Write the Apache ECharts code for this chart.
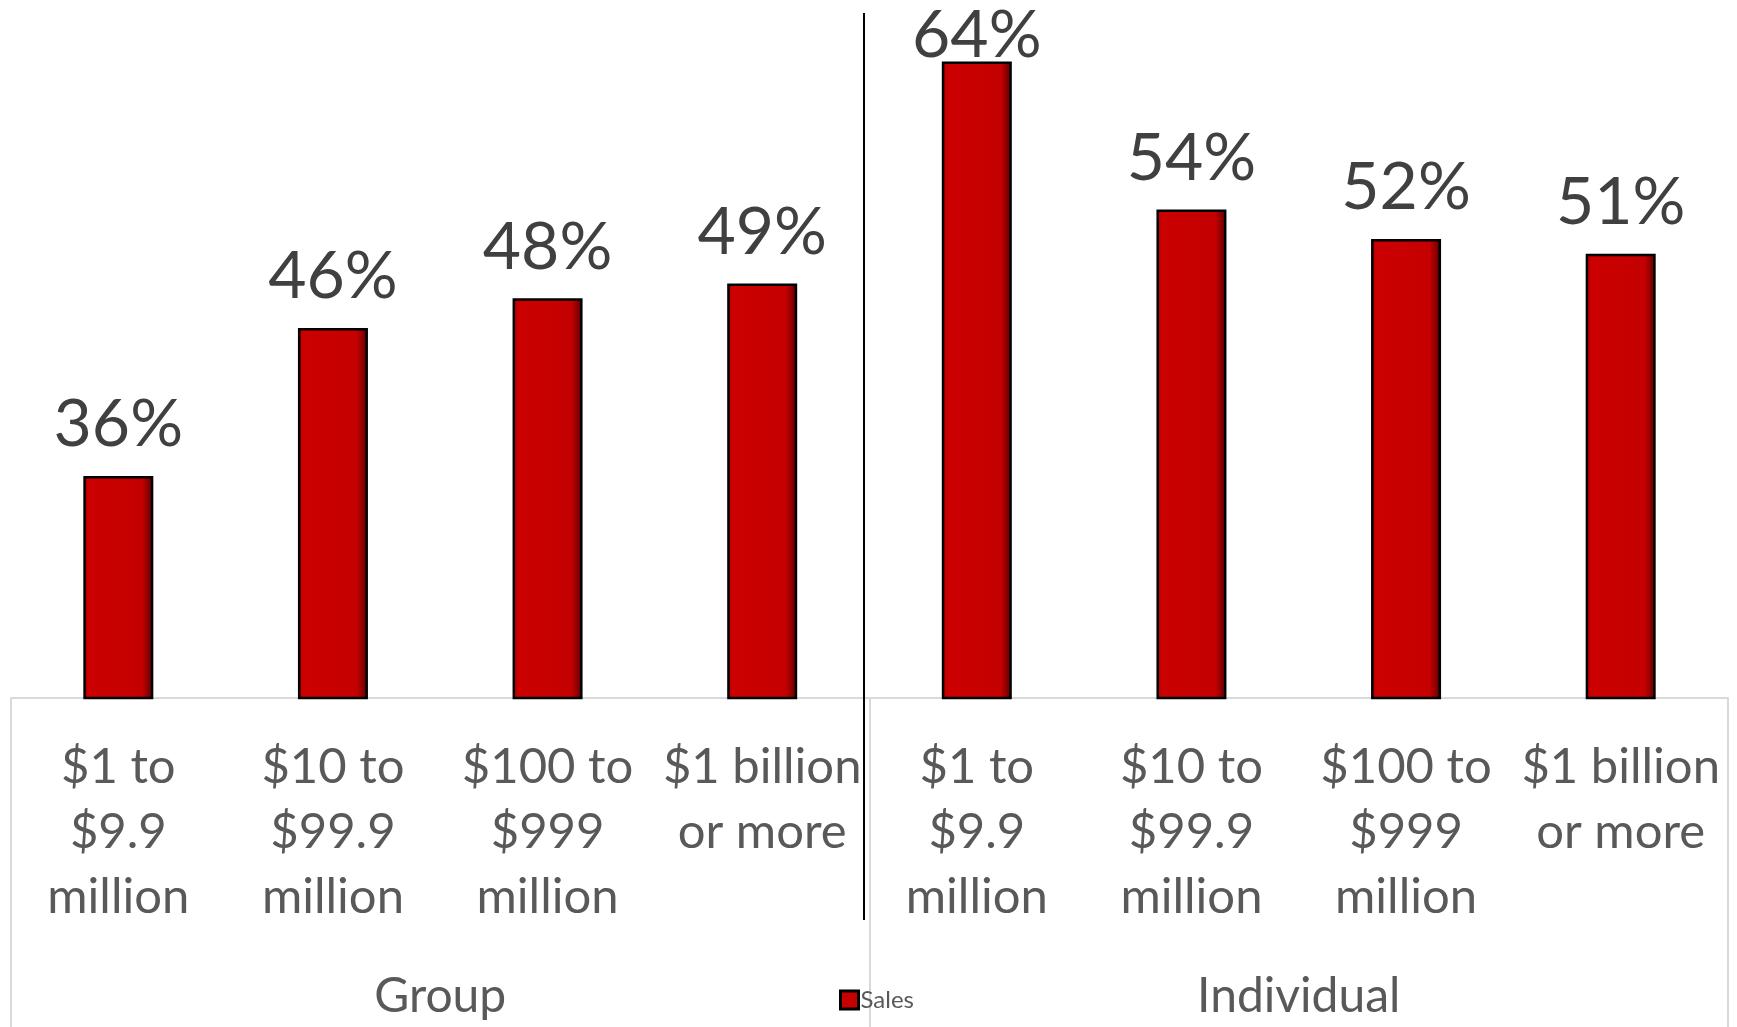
<!DOCTYPE html>
<html>
<head>
<meta charset="utf-8">
<script src="https://cdn.jsdelivr.net/npm/echarts@6/dist/echarts.min.js"></script>
<style>
  html, body { margin: 0; padding: 0; background: #fff; }
  #chart { width: 1737px; height: 1027px; }
</style>
</head>
<body>
<div id="chart"></div>
<script>
// Sales share by company revenue band, split into Group and Individual
const revenueBands = [
  '$1 to\n$9.9\nmillion', '$10 to\n$99.9\nmillion', '$100 to\n$999\nmillion', '$1 billion\nor more',
  '$1 to\n$9.9\nmillion', '$10 to\n$99.9\nmillion', '$100 to\n$999\nmillion', '$1 billion\nor more'
];
const groups = ['Group', 'Individual'];
const salesPct = [36, 46, 48, 49, 64, 54, 52, 51];
const seriesName = 'Sales';

const FONT = 'Lato, "Open Sans", sans-serif';
const GRID_LINE = '#d9d9d9';
const Y_MIN = 21;
const Y_MAX = 67;

// The tallest bar's label sits closer to its bar so it stays inside the canvas.
const peak = Math.max(...salesPct);
const barData = salesPct.map(v => ({
  value: v,
  label: { distance: v === peak ? -7 : 18 }
}));

const chart = echarts.init(document.getElementById('chart'));

chart.setOption({
  animation: false,
  backgroundColor: '#ffffff',
  grid: { left: 11, right: 9, top: 17, bottom: 327, containLabel: false },
  legend: {
    data: [seriesName],
    left: 834,
    top: 983,
    icon: 'rect',
    itemWidth: 18,
    itemHeight: 18,
    itemGap: 4,
    textStyle: { fontFamily: FONT, fontSize: 24, color: '#595959', padding: [0, 0, 0, -3] },
    itemStyle: { borderColor: '#000', borderWidth: 3 }
  },
  xAxis: [
    {
      type: 'category',
      data: revenueBands,
      position: 'bottom',
      axisLine: { show: true, lineStyle: { color: GRID_LINE, width: 2 } },
      axisTick: { show: false },
      axisLabel: {
        interval: 0,
        margin: 37,
        fontFamily: FONT,
        fontSize: 49,
        lineHeight: 65,
        color: '#595959',
        align: 'center'
      }
    },
    {
      type: 'category',
      data: groups,
      position: 'bottom',
      axisLine: { show: false },
      axisTick: { show: true, length: 330, lineStyle: { color: GRID_LINE, width: 2 } },
      axisLabel: {
        interval: 0,
        margin: 269,
        fontFamily: FONT,
        fontSize: 48,
        lineHeight: 60,
        color: '#595959'
      }
    }
  ],
  yAxis: {
    type: 'value',
    min: Y_MIN,
    max: Y_MAX,
    show: false,
    splitLine: { show: false }
  },
  series: [
    {
      name: seriesName,
      type: 'bar',
      xAxisIndex: 0,
      data: barData,
      barWidth: 70,
      itemStyle: {
        color: {
          type: 'linear', x: 0, y: 0, x2: 1, y2: 0,
          colorStops: [
            { offset: 0, color: '#9a0000' },
            { offset: 0.07, color: '#cc0000' },
            { offset: 0.84, color: '#c40000' },
            { offset: 0.93, color: '#8a0000' },
            { offset: 1, color: '#4a0000' }
          ]
        },
        borderColor: '#000000',
        borderWidth: 2.5
      },
      label: {
        show: true,
        position: 'top',
        formatter: '{c}%',
        fontFamily: FONT,
        fontSize: 66,
        color: '#404040'
      }
    }
  ],
  graphic: [
    {
      type: 'line',
      shape: { x1: 864, y1: 13, x2: 864, y2: 920 },
      style: { stroke: '#000000', lineWidth: 2 },
      z: 100
    }
  ]
});
</script>
</body>
</html>
